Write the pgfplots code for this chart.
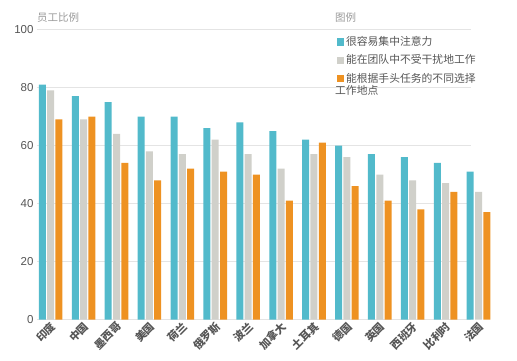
\documentclass[border=0pt]{standalone}
\usepackage{pgfplots}
\pgfplotsset{compat=1.18}
\usepackage{fontspec}
\setmainfont{Noto Sans CJK SC}
\newfontfamily\numfont{Liberation Sans}
\definecolor{cteal}{HTML}{52BACB}
\definecolor{cgray}{HTML}{D0D0CA}
\definecolor{corange}{HTML}{EE9222}
\definecolor{ctext}{HTML}{555555}
\definecolor{clight}{HTML}{9A9A9A}
\definecolor{cgrid}{HTML}{E4E4E4}
\begin{document}
\begin{tikzpicture}
\path[use as bounding box] (0,0) rectangle (517pt,360pt);
\begin{axis}[
  at={(37pt,40.5pt)}, anchor=south west,
  scale only axis, width=470pt, height=290pt,
  ybar=1.3pt, bar width=7pt,
  xmin=-0.416, xmax=13.866, ymin=0, ymax=100,
  clip=false,
  axis line style={draw=none},
  major tick style={draw=none},
  ytick={0,20,40,60,80,100},
  xtick={0,1,2,3,4,5,6,7,8,9,10,11,12,13},
  xticklabels={印度,中国,墨西哥,美国,荷兰,俄罗斯,波兰,加拿大,土耳其,德国,英国,西班牙,比利时,法国},
  xticklabel style={rotate=45, anchor=north east, font=\fontsize{10.8}{12}\selectfont\bfseries, text=ctext, xshift=5pt, yshift=6pt},
  yticklabel style={font=\numfont\fontsize{11.5}{13}\selectfont, text=ctext},
  /pgf/number format/assume math mode=true,
  legend style={at={(rel axis cs:0.631,0.99)}, anchor=north west, draw=none, fill=none,
    font=\fontsize{10.8}{12}\selectfont, text=ctext, row sep=3.6pt,
    /tikz/every even column/.append style={column sep=6.5pt}},
  legend cell align=left,
  legend image code/.code={\fill[#1] (0pt,-3.6pt) rectangle (7.3pt,3.6pt);},
]
\foreach \g in {0,20,40,60,80,100}{
  \edef\tmp{\noexpand\draw[cgrid, line width=0.8pt] (axis cs:-0.416,\g) -- (axis cs:12.77,\g);}
  \tmp
}
\addplot[draw=none, fill=cteal] coordinates {(0,81) (1,77) (2,75) (3,70) (4,70) (5,66) (6,68) (7,65) (8,62) (9,60) (10,57) (11,56) (12,54) (13,51)};
\addplot[draw=none, fill=cgray] coordinates {(0,79) (1,69) (2,64) (3,58) (4,57) (5,62) (6,57) (7,52) (8,57) (9,56) (10,50) (11,48) (12,47) (13,44)};
\addplot[draw=none, fill=corange] coordinates {(0,69) (1,70) (2,54) (3,48) (4,52) (5,51) (6,50) (7,41) (8,61) (9,46) (10,41) (11,38) (12,44) (13,37)};
\legend{很容易集中注意力,能在团队中不受干扰地工作,能根据手头任务的不同选择}
\node[anchor=west, inner sep=0pt, font=\fontsize{10.8}{12}\selectfont, text=ctext] at (rel axis cs:0.634,0.79) {工作地点};
\node[anchor=west, inner sep=0pt, font=\fontsize{10.5}{12}\selectfont, text=clight] at (rel axis cs:0,1.04) {员工比例};
\node[anchor=west, inner sep=0pt, font=\fontsize{10.5}{12}\selectfont, text=clight] at (rel axis cs:0.634,1.04) {图例};
\end{axis}
\end{tikzpicture}
\end{document}
